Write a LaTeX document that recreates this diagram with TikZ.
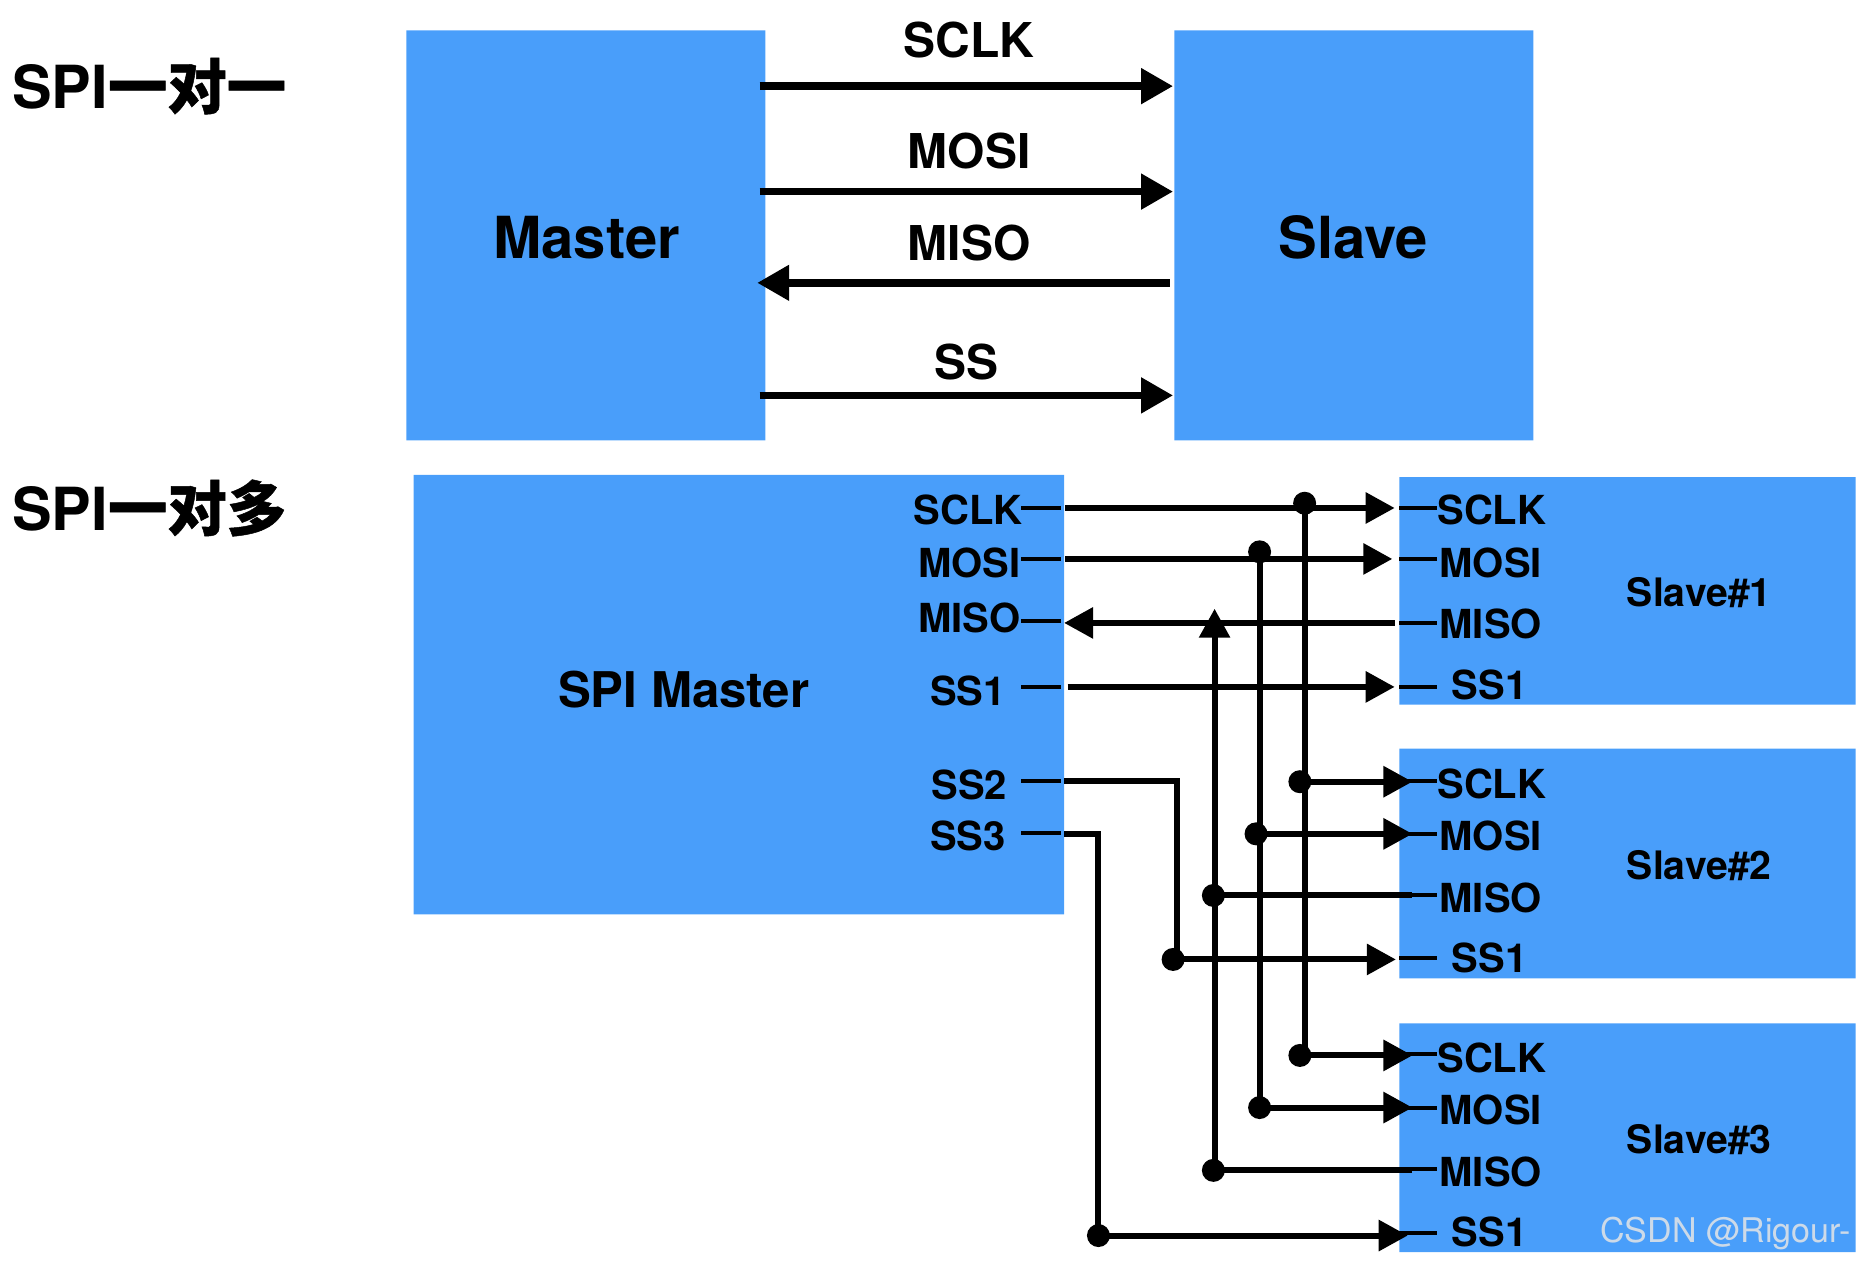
\documentclass[tikz,border=0pt]{standalone}
\usepackage{fontspec}
\setmainfont{TeX Gyre Heros}
\newfontfamily\cjk[FakeBold=0.8]{Noto Sans CJK SC}
\usetikzlibrary{arrows.meta}
\definecolor{blk}{RGB}{73,158,250}
\tikzset{
  block/.style={fill=blk,draw=none,inner sep=0pt,outer sep=0pt},
  lab/.style={font=\bfseries\fontsize{20}{20}\selectfont,inner sep=0pt},
  toplab/.style={font=\bfseries\fontsize{24}{24}\selectfont,inner sep=0pt},
  biglab/.style={font=\bfseries\fontsize{29}{29}\selectfont,inner sep=0pt},
  slavelab/.style={font=\bfseries\fontsize{19.6}{20}\selectfont,inner sep=0pt},
  titlelab/.style={font=\bfseries\fontsize{29.7}{30}\selectfont,inner sep=0pt},
  thick wire/.style={line width=3.9pt,-{Triangle[length=16pt,width=17pt]}},
  wire/.style={line width=3pt},
  awire/.style={wire,-{Triangle[length=14.5pt,width=15pt]}},
  stub/.style={line width=2pt},
  junction/.style={circle,fill=black,inner sep=0pt,minimum size=11.5pt},
}
\begin{document}
\begin{tikzpicture}[x=0.5925pt,y=-0.5925pt]
\useasboundingbox (0,-0.7) rectangle (1568,1066.3);
% blocks
\path[block] (343,25) rectangle (646,371) (991,25) rectangle (1294,371)
  (349,400) rectangle (898,771)
  (1181,402) rectangle (1566,594) (1181,631) rectangle (1566,825) (1181,863) rectangle (1566,1056);
% titles and top labels
\node[titlelab,anchor=west] (t1) at (10,72) {SPI{\cjk 一对一}};
\node[titlelab,anchor=west] (t2) at (10,428) {SPI{\cjk 一对多}};
\node[biglab] (master) at (495,200) {Master};
\node[biglab] (slave) at (1142,200) {Slave};
\node[toplab] (tsclk) at (818,33) {SCLK};
\node[toplab] (tmosi) at (818,127) {MOSI};
\node[toplab] (tmiso) at (818,204) {MISO};
\node[toplab] (tss) at (816,305) {SS};
% top connectors
\foreach \n/\y in {a/72,b/161,c/238,d/333}{
  \coordinate (l\n) at (641,\y);
  \coordinate (r\n) at (990,\y);
}
\draw[thick wire] (la) -- (ra);
\draw[thick wire] (lb) -- (rb);
\coordinate (cr) at (987,238); \coordinate (cl) at (639,238);
\draw[thick wire] (cr) -- (cl);
\draw[thick wire] (ld) -- (rd);
% lower labels
\node[font=\bfseries\fontsize{24.6}{25}\selectfont,inner sep=0pt] (spim) at (577,581) {SPI Master};
\node[lab] (msclk) at (817,430) {SCLK};
\node[lab] (mmosi) at (818,474) {MOSI};
\node[lab] (mmiso) at (818,521) {MISO};
\node[lab] (mssa) at (817,582) {SS1};
\node[lab] (mssb) at (818,662) {SS2};
\node[lab] (mssc) at (817,705) {SS3};
\foreach \s/\o/\t in {1/0/Slave\#1,2/231/Slave\#2,3/462/Slave\#3}{
  \node[lab] (sclk\s) at (1259,430+\o) {SCLK};
  \node[lab] (mosi\s) at (1258,474+\o) {MOSI};
  \node[lab] (miso\s) at (1258,526+\o) {MISO};
  \node[lab] (ss\s) at (1257,577+\o) {SS1};
  \node[slavelab] (name\s) at (1434,499+\o) {\t};
}
% stubs on the master and the slaves
\foreach \n/\y in {a/428,b/471,c/523,d/579,e/658,f/702}{
  \draw[stub] (862,\y) coordinate (sm\n) -- (895,\y) coordinate (em\n);
}
\foreach \n/\y/\xa in {a/428/1181,b/471/1181,c/525/1181,d/579/1181,
    e/658/1181,f/703/1181,g/755/1181,h/808/1181,
    i/889/1181,j/934/1181,k/986/1181,l/1040/1181}{
  \draw[stub] (\xa,\y) coordinate (ss\n) -- (1213,\y) coordinate (es\n);
}
% junctions
\node[junction] (ja) at (1101,424) {};
\node[junction] (jb) at (1097,659) {};
\node[junction] (jc) at (1097,890) {};
\node[junction] (jd) at (1063,465) {};
\node[junction] (je) at (1060,703) {};
\node[junction] (jf) at (1063,934) {};
\node[junction] (jg) at (1024,755) {};
\node[junction] (jh) at (1024,987) {};
\node[junction] (ji) at (990,809) {};
\node[junction] (jj) at (927,1042) {};
% end points
\coordinate (o1) at (899,428); \coordinate (i1) at (1177,428);
\coordinate (o2) at (899,471); \coordinate (i2) at (1175,471);
\coordinate (o3) at (1177,525); \coordinate (i3) at (898,525);
\coordinate (o4) at (901,579); \coordinate (i4) at (1177,579);
\coordinate (o5) at (898,658); \coordinate (c5) at (993,658);
\coordinate (o6) at (898,703); \coordinate (c6) at (927,703);
\coordinate (tipa) at (1192,659);
\coordinate (tipb) at (1192,703);
\coordinate (tipc) at (1192,755);
\coordinate (tipd) at (1178,809);
\coordinate (tipe) at (1192,890);
\coordinate (tipf) at (1192,934);
\coordinate (tipg) at (1192,987);
\coordinate (tiph) at (1188,1042);
\coordinate (bus) at (1101,890);
\coordinate (misotip) at (1025,513);
\coordinate (misobot) at (1025,987);
\coordinate (vjoin) at (993,809);
% wires
\draw[awire] (o1) -- (i1);
\draw[awire] (o2) -- (i2);
\draw[awire] (o3) -- (i3);
\draw[awire] (o4) -- (i4);
\draw[wire] (ja.center) -- (bus);
\draw[wire] (jd.center) -- (jf.center);
\draw[awire] (misobot) -- (misotip);
\draw[wire] (o5) -- (c5) -- (vjoin);
\draw[wire] (o6) -- (c6) -- (jj.center);
\draw[awire] (jb.center) -- (tipa);
\draw[awire] (je.center) -- (tipb);
\draw[wire] (jg.center) -- (tipc);
\draw[awire] (ji.center) -- (tipd);
\draw[awire] (jc.center) -- (tipe);
\draw[awire] (jf.center) -- (tipf);
\draw[wire] (jh.center) -- (tipg);
\draw[awire] (jj.center) -- (tiph);
% watermark
\node[font=\fontsize{17}{18}\selectfont,text={rgb,255:red,205;green,218;blue,232},anchor=east,inner sep=0pt] (wm) at (1562,1040) {CSDN @Rigour-};
\end{tikzpicture}
\end{document}
